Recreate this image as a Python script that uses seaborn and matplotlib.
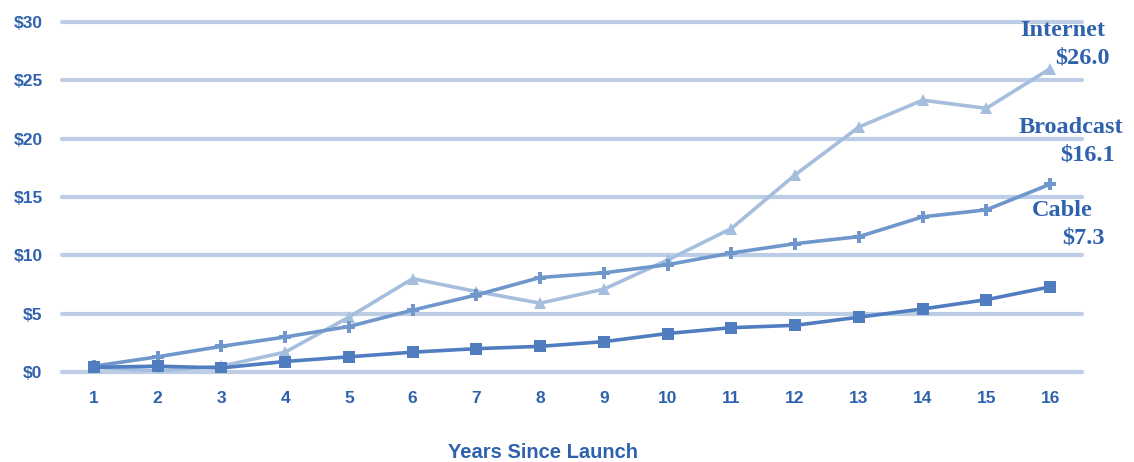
import matplotlib
matplotlib.use('Agg')
import matplotlib.pyplot as plt
import seaborn as sns
import pandas as pd

# values ($ per year since launch)
years = list(range(1, 17))
internet = [0.4, 0.1, 0.5, 1.7, 4.7, 8.0, 6.9, 5.9, 7.1, 9.6, 12.3, 16.9, 21.0, 23.3, 22.6, 26.0]
broadcast = [0.5, 1.3, 2.2, 3.0, 3.9, 5.3, 6.6, 8.1, 8.5, 9.2, 10.2, 11.0, 11.6, 13.3, 13.9, 16.1]
cable = [0.4, 0.5, 0.35, 0.9, 1.3, 1.7, 2.0, 2.2, 2.6, 3.3, 3.8, 4.0, 4.7, 5.4, 6.2, 7.3]
series_names = ['Internet', 'Broadcast', 'Cable']
end_labels = ['$26.0', '$16.1', '$7.3']
y_ticks = [0, 5, 10, 15, 20, 25, 30]

df = pd.DataFrame({'year': years, 'Internet': internet,
                   'Broadcast': broadcast, 'Cable': cable})
df = df.melt('year', var_name='medium', value_name='value')

text_blue = '#2f62ad'
grid_blue = '#bccde5'
palette = {'Internet': '#a6bede', 'Broadcast': '#7097cc', 'Cable': '#4f7dc0'}
markers = {'Internet': '^', 'Broadcast': 'P', 'Cable': 's'}

sns.set_style('white')
plt.rcParams['font.family'] = ['Liberation Sans', 'DejaVu Sans']

fig = plt.figure(figsize=(11.34, 4.62), dpi=100)
ax = fig.add_axes([62 / 1134, 1 - 372 / 462, 1020 / 1134, 350 / 462])

sns.lineplot(data=df, x='year', y='value', hue='medium', style='medium',
             palette=palette, markers=markers, dashes=False, ax=ax,
             linewidth=2.6, markersize=8, markeredgewidth=0, legend=False,
             hue_order=series_names, style_order=series_names)

ax.set_xlim(0.5, 16.5)
ax.set_ylim(0, 30)
for y in y_ticks:
    ax.axhline(y, color=grid_blue, lw=3, zorder=0, clip_on=False)
ax.set_yticks(y_ticks)
ax.set_yticklabels(['$%d' % y for y in y_ticks])
ax.set_xticks(years)
ax.set_xticklabels([str(y) for y in years])
ax.set_xticks([y + 0.5 for y in range(0, 17)], minor=True)
ax.tick_params(axis='x', which='major', length=0, pad=14)
ax.tick_params(axis='x', which='minor', length=5, width=2, color=grid_blue,
               direction='inout')
ax.tick_params(axis='y', length=0, pad=14)
for lab in ax.get_xticklabels() + ax.get_yticklabels():
    lab.set_color(text_blue)
    lab.set_fontsize(12.5)
    lab.set_fontweight('bold')
for s in ax.spines.values():
    s.set_visible(False)
ax.set_xlabel('')
ax.set_ylabel('')

fig.text(543 / 1134, 1 - 452 / 462, 'Years Since Launch', color=text_blue,
         fontsize=14.5, fontweight='bold', ha='center', va='center')

# end-of-line labels, serif like the original
label_pos = [((1105, 30), (1110, 58)), ((1123, 127), (1115, 155)),
             ((1093, 210), (1105, 238))]
for name, val, (p1, p2) in zip(series_names, end_labels, label_pos):
    for txt, (px, py) in ((name, p1), (val, p2)):
        fig.text(px / 1134, 1 - py / 462, txt, color=text_blue,
                 family=['Liberation Serif', 'DejaVu Serif'], fontsize=17.5,
                 fontweight='bold', ha='right', va='center')

fig.savefig('out.png', dpi=100)
